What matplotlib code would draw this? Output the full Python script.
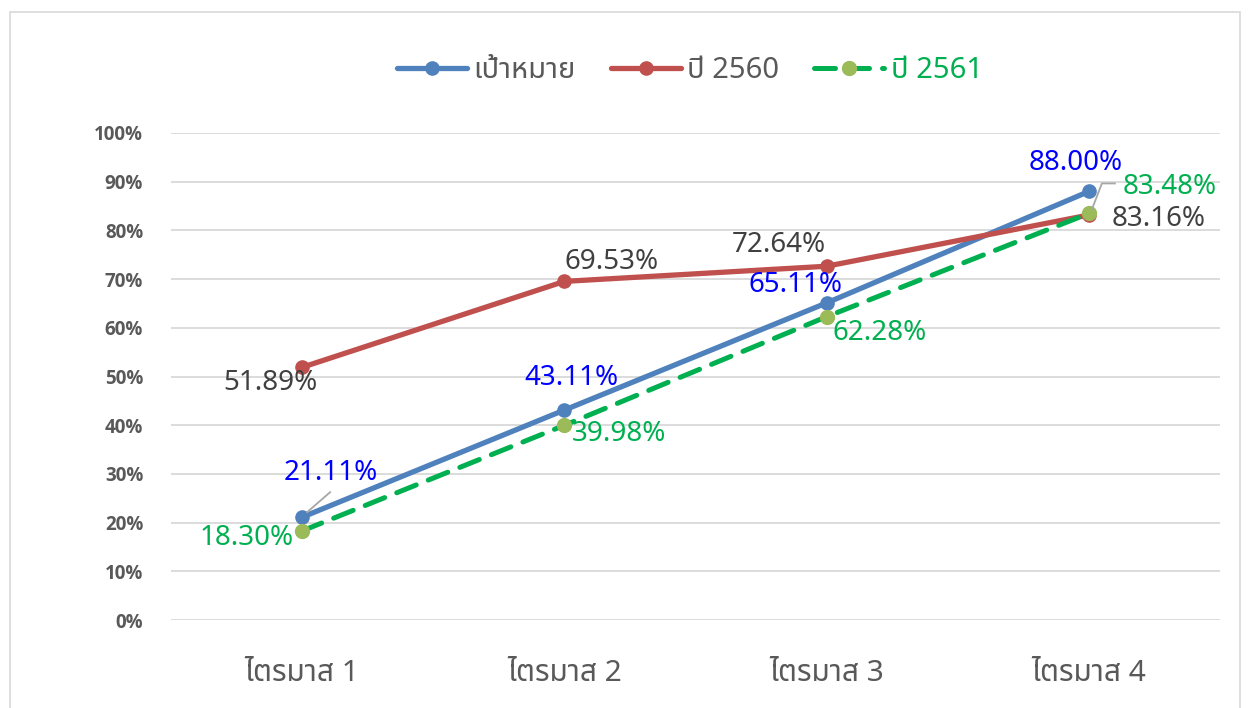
import numpy as np
import matplotlib
matplotlib.use("Agg")
import matplotlib.pyplot as plt
from matplotlib import font_manager, ft2font
import matplotlib.transforms as mtransforms
from matplotlib.lines import Line2D
from matplotlib.patches import Rectangle

# ---------------- data ----------------
categories = ["ไตรมาส 1", "ไตรมาส 2", "ไตรมาส 3", "ไตรมาส 4"]
series_names = ["เป้าหมาย", "ปี 2560", "ปี 2561"]
target = [21.11, 43.11, 65.11, 88.00]
y2560 = [51.89, 69.53, 72.64, 83.16]
y2561 = [18.30, 39.98, 62.28, 83.48]
yticks = [0, 10, 20, 30, 40, 50, 60, 70, 80, 90, 100]

# ---------------- font selection (Thai coverage) ----------------
def find_thai_font():
    preferred = ["Noto Sans Thai", "Noto Sans Thai UI", "Leelawadee UI", "Leelawadee",
                 "Tahoma", "Sarabun", "Loma", "Garuda", "Waree", "Umpush", "Kinnari",
                 "Norasi", "Laksaman", "Sawasdee", "Noto Serif Thai"]
    found = {}
    for fe in font_manager.fontManager.ttflist:
        try:
            f = ft2font.FT2Font(fe.fname)
            cm = f.get_charmap()
            if 0x0E44 in cm and 0x0E32 in cm and 0x0E21 in cm:
                found.setdefault(fe.name, fe.fname)
        except Exception:
            pass
    for p in preferred:
        if p in found:
            return p
    if found:
        return sorted(found)[0]
    return None

thai = find_thai_font()
fam = ["Noto Sans"]
if thai:
    fam.append(thai)
fam.append("DejaVu Sans")
plt.rcParams["font.family"] = fam

# ---------------- figure ----------------
W, H = 1248, 708
fig = plt.figure(figsize=(W / 100, H / 100), dpi=100)
fig.subplots_adjust(left=171 / W, right=1220 / W, bottom=1 - 620 / H, top=1 - 133 / H)
ax = fig.add_subplot(111)

x = np.arange(len(categories))
blue, red, green, green_mk = "#4F81BD", "#C0504D", "#00B050", "#9BBB59"

ax.plot(x, target, color=blue, lw=3.8, marker="o", ms=9.5, mfc=blue, mec=blue,
        solid_capstyle="round", label=series_names[0], zorder=3)
ax.plot(x, y2560, color=red, lw=3.8, marker="o", ms=9.5, mfc=red, mec=red,
        solid_capstyle="round", label=series_names[1], zorder=3)
ax.plot(x, y2561, color=green, lw=3.6, ls=(0, (4.2, 2.6)), marker="o", ms=10,
        mfc=green_mk, mec=green_mk, dash_capstyle="round", label=series_names[2], zorder=4)

ax.set_xlim(-0.5, len(categories) - 0.5)
ax.set_ylim(0, 100)
ax.set_yticks(yticks)
ax.set_yticklabels([f"{v}%" for v in yticks], fontsize=13.5, fontweight="bold",
                   color="#595959", family=["Open Sans", "DejaVu Sans"])
ax.set_xticks(x)
ax.set_xticklabels(categories, fontsize=21.5, color="#595959")
ax.tick_params(axis="both", length=0)
ax.tick_params(axis="y", pad=20)
ax.tick_params(axis="x", pad=28)
ax.grid(axis="y", color="#D9D9D9", lw=1.3)
ax.set_axisbelow(True)
for s in ["top", "right", "left", "bottom"]:
    ax.spines[s].set_visible(False)

# ---------------- data labels ----------------
lbl_fs = 20
off_target = [(29, 44), (7, 32), (-31, 18), (-13, 28)]
off_2560 = [(-32, -16), (47, 19), (-48, 21), (70, -4)]
off_2561 = [(-56, -7), (55, -9), (53, -16), (81, 26)]

def add_labels(vals, offs, color):
    for xi, v, (dx, dy) in zip(x, vals, offs):
        ax.annotate(f"{v:.2f}%", xy=(xi, v), xytext=(dx, dy), textcoords="offset pixels",
                    ha="center", va="center", fontsize=lbl_fs, color=color, zorder=5)

add_labels(target, off_target, "#0000FF")
add_labels(y2560, off_2560, "#404040")
add_labels(y2561, off_2561, green)

# leader lines (pixel offsets from point)
def leader(xi, v, offs):
    px, py = ax.transData.transform((xi, v))
    xs = [px + o[0] for o in offs]
    ys = [py + o[1] for o in offs]
    fig.add_artist(Line2D(xs, ys, transform=mtransforms.IdentityTransform(),
                          color="#A6A6A6", lw=1.3, zorder=2))

leader(0, target[0], [(5, 5), (28, 25)])
leader(3, y2561[3], [(3, 4), (13, 30), (26, 30)])

# ---------------- legend ----------------
leg = fig.legend(loc="center", bbox_to_anchor=(690 / W, 1 - 71 / H), ncol=3, frameon=False,
                 fontsize=21, handlelength=2.4, handletextpad=0.22, columnspacing=1.2)
for t, c in zip(leg.get_texts(), ["#595959", "#595959", green]):
    t.set_color(c)

# outer border
fig.add_artist(Rectangle((10 / W, -0.02), (1240 - 10) / W, 1.02 - 12 / H,
                         transform=fig.transFigure, fill=False, edgecolor="#D9D9D9", lw=1.2))

fig.savefig("out.png", dpi=100)
